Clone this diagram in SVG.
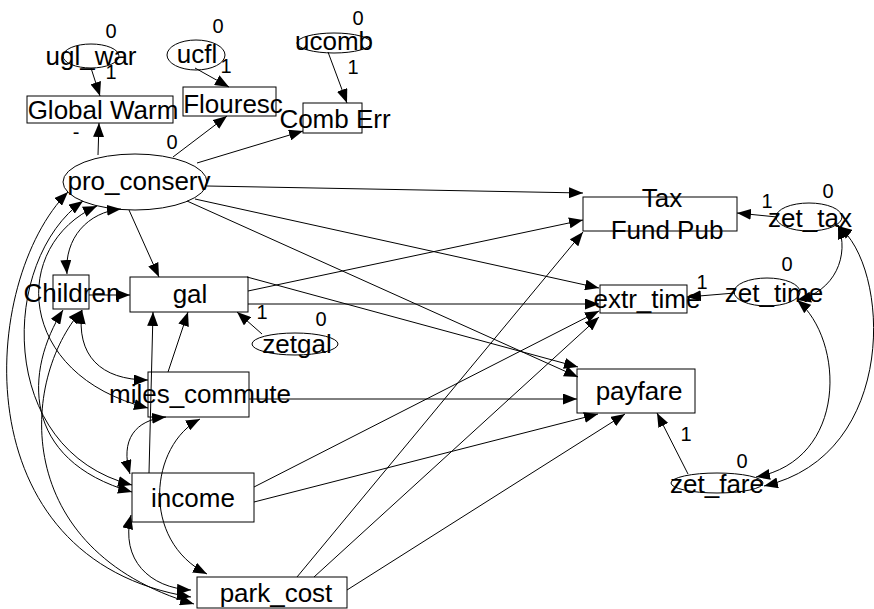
<svg xmlns="http://www.w3.org/2000/svg" width="874" height="609" viewBox="0 0 874 609">
<style>
.n{fill:none;stroke:#000;stroke-width:1}
.t{font-family:"Liberation Sans",Arial,sans-serif;font-size:26px;fill:#000;text-anchor:middle}
.p{font-family:"Liberation Sans",Arial,sans-serif;font-size:20px;fill:#000;text-anchor:middle}
.c{fill:none;stroke:#000;stroke-width:1;marker-end:url(#ah)}
.d{fill:none;stroke:#000;stroke-width:1;marker-start:url(#ah);marker-end:url(#ah)}
</style>
<defs>
<marker id="ah" viewBox="0 0 14 11" refX="14" refY="5.5" markerWidth="14" markerHeight="11" markerUnits="userSpaceOnUse" orient="auto-start-reverse"><path d="M0,0 L14,5.5 L0,11 z" fill="#000"/></marker>
</defs>
<rect width="874" height="609" fill="#fff"/>
<g id="connectors">
<path class="c" d="M91,68 L100,96"/>
<path class="c" d="M195,68 L229,87"/>
<path class="c" d="M328,52 L347,103"/>
<path class="c" d="M98,155 L99,123"/>
<path class="c" d="M173,157 L227,116"/>
<path class="c" d="M197,163 L303,131"/>
<path class="c" d="M207,186 L583,193"/>
<path class="c" d="M195,199 L599,288"/>
<path class="c" d="M187,201 L578,377"/>
<path class="c" d="M248,291 L583,220"/>
<path class="c" d="M248,304 L599,304"/>
<path class="c" d="M247,277 L578,367"/>
<path class="c" d="M89,295 L130,295"/>
<path class="c" d="M129,210 L159,277"/>
<path class="c" d="M262,334 L237,312"/>
<path class="c" d="M168,372 L188,312"/>
<path class="c" d="M149,473 L153,312"/>
<path class="c" d="M249,399 L577,399"/>
<path class="c" d="M254,487 L599,311"/>
<path class="c" d="M254,502 L598,414"/>
<path class="c" d="M297,577 L583,232"/>
<path class="c" d="M314,577 L599,317"/>
<path class="c" d="M347,590 L625,414"/>
<path class="c" d="M777,217 L737,213"/>
<path class="c" d="M735,293 L687,297"/>
<path class="c" d="M688,474 L657,413"/>
<path class="d" d="M121,209 C88,212 64,238 67,274"/>
<path class="d" d="M68,192 C-20,280 -40,560 191,597"/>
<path class="d" d="M83,201 C0,260 -5,450 132,485"/>
<path class="d" d="M97,206 C10,245 15,375 148,408"/>
<path class="d" d="M63,310 C25,370 20,460 132,492"/>
<path class="d" d="M82,310 C20,380 10,550 194,604"/>
<path class="d" d="M82,310 C76,355 100,380 148,380"/>
<path class="d" d="M166,417 C135,420 120,440 130,474"/>
<path class="d" d="M200,419 C150,445 140,540 207,574"/>
<path class="d" d="M131,515 C120,560 150,588 191,590"/>
<path class="d" d="M838,225 C850,255 835,292 797,300"/>
<path class="d" d="M797,300 C845,340 848,460 756,477"/>
<path class="d" d="M838,226 C890,265 900,455 764,486"/>
</g>
<g id="ugl_war"><ellipse class="n" cx="91" cy="56" rx="28" ry="12"/><text class="t" x="91" y="65">ugl_war</text><text class="p" x="111" y="38">0</text><text class="p" x="111" y="79">1</text></g>
<g id="global_warm"><rect class="n" x="27" y="96" width="146" height="27"/><text class="t" x="103" y="119">Global Warm</text><text class="p" x="76" y="139">-</text></g>
<g id="ucfl"><ellipse class="n" cx="196" cy="55" rx="29" ry="15"/><text class="t" x="197" y="63">ucfl</text><text class="p" x="218" y="33">0</text><text class="p" x="226" y="73">1</text></g>
<g id="flouresc"><rect class="n" x="183" y="87" width="93" height="29"/><text class="t" x="233" y="113">Flouresc</text><text class="p" x="172" y="149">0</text></g>
<g id="ucomb"><ellipse class="n" cx="334" cy="43" rx="37" ry="10"/><text class="t" x="334" y="50">ucomb</text><text class="p" x="358" y="25">0</text><text class="p" x="353" y="74">1</text></g>
<g id="comb_err"><rect class="n" x="303" y="103" width="59" height="30"/><text class="t" x="335" y="128">Comb Err</text></g>
<g id="pro_conserv"><ellipse class="n" cx="135" cy="182" rx="72" ry="28"/><text class="t" x="139" y="190">pro_conserv</text></g>
<g id="tax_fund_pub"><rect class="n" x="583" y="197" width="154" height="34"/><text class="t" x="662" y="207">Tax</text><text class="t" x="667" y="239">Fund Pub</text></g>
<g id="zet_tax"><ellipse class="n" cx="809" cy="217" rx="33" ry="14"/><text class="t" x="810" y="227">zet_tax</text><text class="p" x="767" y="208">1</text><text class="p" x="828" y="198">0</text></g>
<g id="children"><rect class="n" x="53" y="275" width="36" height="34"/><text class="t" x="72" y="302">Children</text></g>
<g id="gal"><rect class="n" x="130" y="277" width="118" height="35"/><text class="t" x="190" y="303">gal</text></g>
<g id="zetgal"><ellipse class="n" cx="295" cy="344" rx="43" ry="11"/><text class="t" x="297" y="353">zetgal</text><text class="p" x="262" y="319">1</text><text class="p" x="321" y="326">0</text></g>
<g id="extr_time"><rect class="n" x="600" y="285" width="87" height="28"/><text class="t" x="647" y="308">extr_time</text></g>
<g id="zet_time"><ellipse class="n" cx="767" cy="292" rx="33" ry="14"/><text class="t" x="774" y="302">zet_time</text><text class="p" x="787" y="271">0</text><text class="p" x="702" y="289">1</text></g>
<g id="miles_commute"><rect class="n" x="148" y="372" width="101" height="45"/><text class="t" x="200" y="403">miles_commute</text></g>
<g id="payfare"><rect class="n" x="577" y="369" width="118" height="44"/><text class="t" x="639" y="400">payfare</text></g>
<g id="zet_fare"><ellipse class="n" cx="717" cy="483" rx="46" ry="10"/><text class="t" x="717" y="493">zet_fare</text><text class="p" x="686" y="441">1</text><text class="p" x="742" y="468">0</text></g>
<g id="income"><rect class="n" x="132" y="473" width="122" height="49"/><text class="t" x="193" y="507">income</text></g>
<g id="park_cost"><rect class="n" x="197" y="577" width="150" height="31"/><text class="t" x="276" y="602">park_cost</text></g>
</svg>
